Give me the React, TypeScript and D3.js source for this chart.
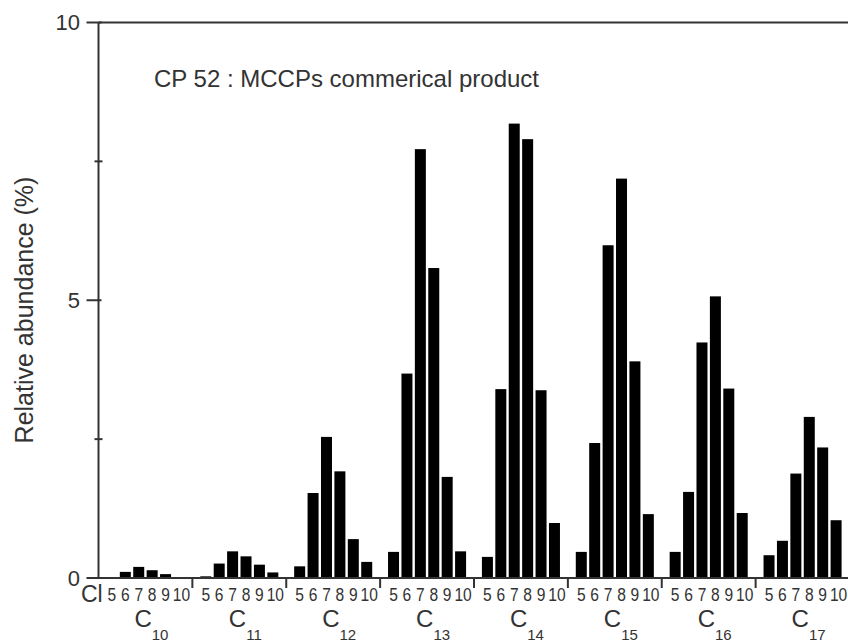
import React from "react";
import * as d3 from "d3";

// Carbon chain groups and chlorine numbers
const carbonGroups = ["10", "11", "12", "13", "14", "15", "16", "17"];
const chlorineLabels = ["5", "6", "7", "8", "9", "10"];

// Relative abundance (%) for Cl5..Cl10 in each carbon group
const c10 = [0.01, 0.11, 0.2, 0.14, 0.07, 0.01];
const c11 = [0.03, 0.26, 0.48, 0.39, 0.24, 0.1];
const c12 = [0.21, 1.53, 2.54, 1.92, 0.7, 0.29];
const c13 = [0.47, 3.68, 7.72, 5.58, 1.82, 0.48];
const c14 = [0.38, 3.4, 8.18, 7.9, 3.38, 0.99];
const c15 = [0.47, 2.43, 5.99, 7.19, 3.9, 1.15];
const c16 = [0.47, 1.55, 4.24, 5.07, 3.41, 1.17];
const c17 = [0.41, 0.67, 1.88, 2.9, 2.35, 1.04];
const groupValues = [c10, c11, c12, c13, c14, c15, c16, c17];

const yMajorTicks = [0, 5, 10];
const yMinorTicks = [2.5, 7.5];

const W = 848;
const H = 643;
const FONT = "'Liberation Sans', Arial, sans-serif";
const INK = "#333";

const slotsPerGroup = 7;

export default function App() {
  const x = d3
    .scaleLinear()
    .domain([0, carbonGroups.length * slotsPerGroup])
    .range([98.5, 849.5]);
  const y = d3.scaleLinear().domain([0, 10]).range([578, 22.5]);
  const unit = x(1) - x(0);
  const barW = unit * 0.82;

  const bars = groupValues.flatMap((vals, g) =>
    vals.map((v, k) => ({ g, k, v, pos: g * slotsPerGroup + k + 1 }))
  );

  const x0 = x(0);
  const y0 = y(0);
  const xEnd = x(carbonGroups.length * slotsPerGroup);

  return (
    <svg
      width={W}
      height={H}
      style={{ position: "absolute", left: 0, top: 0, background: "#fff" }}
      fontFamily={FONT}
    >
      <rect width={W} height={H} fill="#fff" />

      {/* bars */}
      {bars.map((b) => (
        <rect
          key={`${b.g}-${b.k}`}
          x={x(b.pos) - barW / 2}
          y={y(b.v)}
          width={barW}
          height={y0 - y(b.v)}
          fill="#000"
        />
      ))}

      {/* frame */}
      <line x1={x0} x2={xEnd} y1={y(10)} y2={y(10)} stroke={INK} strokeWidth={2} />
      <line x1={xEnd - 1} x2={xEnd - 1} y1={y(10)} y2={y0} stroke="#bbb" strokeWidth={1} />
      <line x1={x0} x2={x0} y1={y(10)} y2={y0} stroke={INK} strokeWidth={2} />
      <line x1={x0} x2={xEnd} y1={y0} y2={y0} stroke={INK} strokeWidth={2} />

      {/* y ticks */}
      {yMajorTicks.map((t) => (
        <g key={`ym${t}`}>
          <line x1={x0 - 12} x2={x0 + 3} y1={y(t)} y2={y(t)} stroke={INK} strokeWidth={2} />
          <text
            x={80}
            y={y(t)}
            textAnchor="end"
            dominantBaseline="central"
            fontSize={22}
            fill={INK}
          >
            {t}
          </text>
        </g>
      ))}
      {yMinorTicks.map((t) => (
        <line key={`yn${t}`} x1={x0 - 4} x2={x0 + 4} y1={y(t)} y2={y(t)} stroke={INK} strokeWidth={2} />
      ))}

      {/* x group boundary ticks */}
      {d3.range(1, carbonGroups.length).map((g) => (
        <line
          key={`xt${g}`}
          x1={x(g * slotsPerGroup)}
          x2={x(g * slotsPerGroup)}
          y1={y0}
          y2={y0 + 10}
          stroke={INK}
          strokeWidth={2}
        />
      ))}

      {/* chlorine number labels */}
      {carbonGroups.map((_, g) =>
        chlorineLabels.map((lab, k) => {
          const cx = x(g * slotsPerGroup + k + 1) + (lab.length > 1 ? 2.5 : 0);
          return (
            <text
              key={`cl${g}-${k}`}
              transform={`translate(${cx},601) scale(0.82,1)`}
              textAnchor="middle"
              fontSize={19}
              fill={INK}
            >
              {lab}
            </text>
          );
        })
      )}
      <text x={81} y={602} fontSize={23} fill={INK}>
        Cl
      </text>

      {/* carbon group labels */}
      {carbonGroups.map((c, g) => {
        const cx = (x(g * slotsPerGroup) + x((g + 1) * slotsPerGroup)) / 2 + 6;
        return (
          <text key={`cg${c}`} x={cx} y={627} textAnchor="middle" fontSize={24} fill={INK}>
            C
            <tspan fontSize={15} dy={13}>
              {c}
            </tspan>
          </text>
        );
      })}

      {/* y axis title */}
      <text
        transform="translate(33,310) rotate(-90)"
        textAnchor="middle"
        fontSize={25}
        fill={INK}
      >
        Relative abundance (%)
      </text>

      {/* chart title */}
      <text x={154} y={87} fontSize={24} fill={INK}>
        CP 52 : MCCPs commerical product
      </text>
    </svg>
  );
}
